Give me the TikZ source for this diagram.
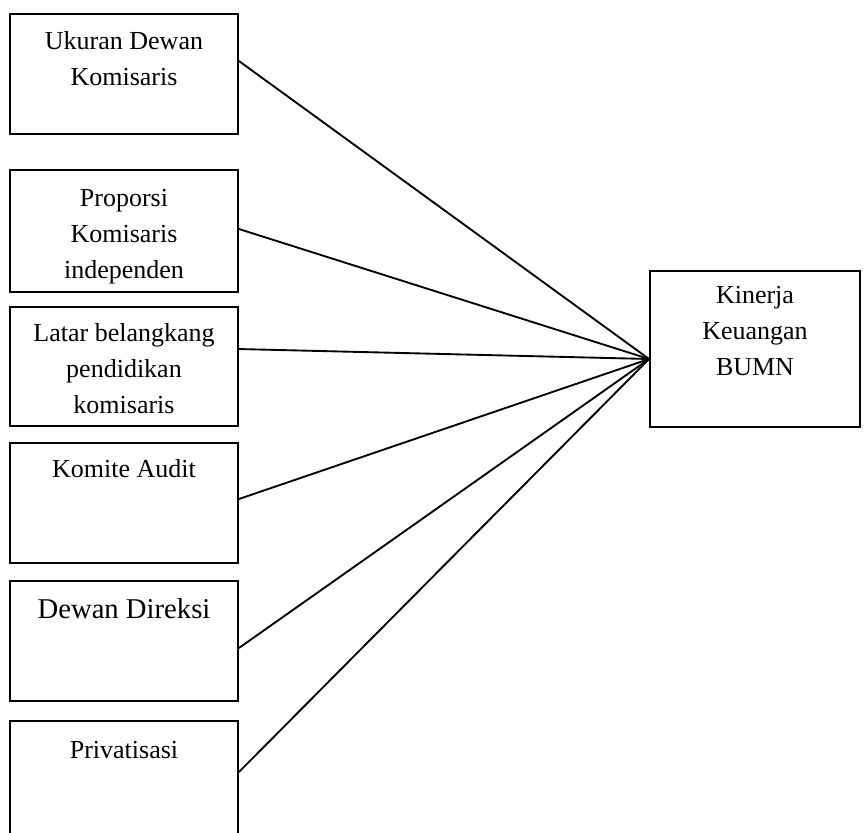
\documentclass[tikz,border=0pt]{standalone}
\usepackage{fontspec}
\setmainfont{Liberation Serif}
\usetikzlibrary{calc, positioning}

\tikzset{
  box/.style={draw, line width=1.4pt, minimum width=171pt, minimum height=90pt, inner sep=0pt},
  boxtext/.style={anchor=north, align=center, inner sep=0pt, font=\fontsize{19.5}{27}\selectfont},
  link/.style={line width=1.4pt},
}

\begin{document}
\begin{tikzpicture}[x=0.75pt, y=-0.75pt]
\useasboundingbox (0,0) rectangle (864,832);
\clip (0,0) rectangle (864,832);

% left column
\node[box] (ukuran) at (124,74) {};
\node[box, minimum height=91.5pt] (proporsi) at (124,231) {};
\node[box, minimum height=89.25pt] (latar) at (124,366.5) {};
\node[box] (komite) at (124,503) {};
\node[box] (direksi) at (124,641) {};
\node[box] (privat) at (124,781) {};

% right box
\node[box, minimum width=157.5pt, minimum height=117pt] (kinerja) at (755,349) {};

% texts
\node[boxtext] (ukuran-t) at ([yshift=-13.7pt]ukuran.north) {Ukuran Dewan\\Komisaris};
\node[boxtext] (proporsi-t) at ([yshift=-15pt]proporsi.north) {Proporsi\\Komisaris\\independen};
\node[boxtext] (latar-t) at ([yshift=-13pt]latar.north) {Latar belangkang\\pendidikan\\komisaris};
\node[boxtext] (komite-t) at ([yshift=-13pt]komite.north) {Komite Audit};
\node[boxtext, font=\fontsize{21.5}{27}\selectfont] (direksi-t) at ([yshift=-14pt]direksi.north) {Dewan Direksi};
\node[boxtext] (privat-t) at ([yshift=-16pt]privat.north) {Privatisasi};
\node[boxtext] (kinerja-t) at ([yshift=-12.3pt]kinerja.north) {Kinerja\\Keuangan\\BUMN};

% connectors
\coordinate (hub) at ([yshift=-7.5pt]kinerja.west);
\foreach \src/\dy in {ukuran/9.75, proporsi/1.5, latar/13.1, komite/3, direksi/-5.25, privat/6.75}{
  \draw[link] ([yshift=\dy pt]\src.east) -- (hub);
}
\end{tikzpicture}
\end{document}
